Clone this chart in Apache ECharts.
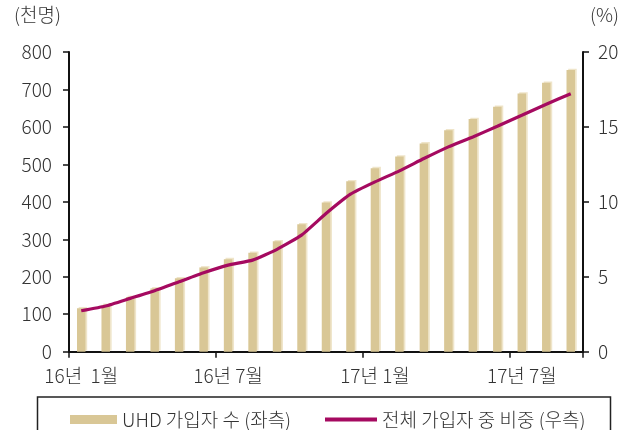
<!DOCTYPE html>
<html>
<head>
<meta charset="utf-8">
<style>
  html, body { margin: 0; padding: 0; background: #fff; }
  #chart { width: 622px; height: 430px; }
</style>
<script src="https://cdn.jsdelivr.net/npm/echarts@6/dist/echarts.min.js"></script>
</head>
<body>
<div id="chart"></div>
<script>
// Monthly UHD subscribers, Jan 2016 – Sep 2017
const months = [
  '16년  1월', '16년 2월', '16년 3월', '16년 4월', '16년 5월', '16년 6월',
  '16년 7월', '16년 8월', '16년 9월', '16년 10월', '16년 11월', '16년 12월',
  '17년 1월', '17년 2월', '17년 3월', '17년 4월', '17년 5월', '17년 6월',
  '17년 7월', '17년 8월', '17년 9월'
];
// UHD subscribers (thousand people), left axis
const uhdSubscribers = [116, 125, 146, 169, 196, 225, 247, 264, 295, 340, 398,
  455, 490, 521, 556, 591, 621, 654, 689, 718, 752];
// Share of all subscribers (%), right axis
const uhdShare = [2.73, 3.05, 3.56, 4.07, 4.67, 5.27, 5.78, 6.11, 6.83, 7.78, 9.22,
  10.51, 11.33, 12.07, 12.89, 13.67, 14.33, 15.05, 15.78, 16.51, 17.22];

const leftTicks = { min: 0, max: 800, interval: 100 };
const rightTicks = { min: 0, max: 20, interval: 5 };

const barName = 'UHD 가입자 수 (좌측)';
const lineName = '전체 가입자 중 비중 (우측)';

const FONT = '"Noto Sans CJK KR", "Noto Sans", sans-serif';
const WEIGHT = 300;
const SIZE = 19;
const TEXT = '#333';
const AXIS = '#111';

const chart = echarts.init(document.getElementById('chart'), null, { renderer: 'canvas' });

const labelStyle = { fontSize: SIZE, color: TEXT, fontFamily: FONT, fontWeight: WEIGHT };

chart.setOption({
  animation: false,
  backgroundColor: '#fff',
  textStyle: { fontFamily: FONT, fontWeight: WEIGHT },
  grid: { left: 69, right: 39, top: 52, bottom: 78.3, containLabel: false },
  graphic: [
    {
      type: 'text', left: 14, top: 5,
      style: { text: '(천명)', font: WEIGHT + ' ' + SIZE + 'px ' + FONT, fill: TEXT }
    },
    {
      type: 'text', left: 590, top: 5,
      style: { text: '(%)', font: WEIGHT + ' ' + SIZE + 'px ' + FONT, fill: TEXT }
    },
    {
      type: 'rect',
      shape: { x: 37.5, y: 397, width: 573, height: 50 },
      style: { fill: 'none', stroke: '#222', lineWidth: 1.5 },
      z: -1
    }
  ],
  legend: [
    {
      data: [barName], left: 65, top: 405,
      itemWidth: 47, itemHeight: 9, icon: 'rect',
      textStyle: labelStyle
    },
    {
      data: [{ name: lineName, icon: 'rect' }], left: 320, top: 405,
      itemWidth: 52, itemHeight: 4,
      textStyle: labelStyle
    }
  ],
  xAxis: {
    type: 'category',
    data: months,
    boundaryGap: true,
    axisLine: { lineStyle: { color: AXIS, width: 2 } },
    axisTick: { show: true, interval: 5, length: 6, lineStyle: { color: AXIS, width: 1.5 } },
    axisLabel: Object.assign({ interval: 5, margin: 15 }, labelStyle),
    splitLine: { show: false }
  },
  yAxis: [
    {
      type: 'value',
      min: leftTicks.min, max: leftTicks.max, interval: leftTicks.interval,
      axisLine: { show: true, lineStyle: { color: AXIS, width: 2 } },
      axisTick: { show: true, length: 6, lineStyle: { color: AXIS, width: 1.5 } },
      axisLabel: Object.assign({ margin: 17 }, labelStyle),
      splitLine: { show: false }
    },
    {
      type: 'value', position: 'right',
      min: rightTicks.min, max: rightTicks.max, interval: rightTicks.interval,
      axisLine: { show: true, lineStyle: { color: AXIS, width: 2 } },
      axisTick: { show: true, length: 6, lineStyle: { color: AXIS, width: 1.5 } },
      axisLabel: Object.assign({ margin: 15 }, labelStyle),
      splitLine: { show: false }
    }
  ],
  series: [
    {
      name: barName,
      type: 'bar',
      yAxisIndex: 0,
      data: uhdSubscribers,
      barWidth: 8.5,
      itemStyle: {
        color: '#d9c796',
        shadowColor: '#efe5ca',
        shadowBlur: 0,
        shadowOffsetX: 1.7,
        shadowOffsetY: -1.3
      }
    },
    {
      name: lineName,
      type: 'line',
      yAxisIndex: 1,
      data: uhdShare,
      smooth: 0.15,
      symbol: 'none',
      lineStyle: { color: '#a50a60', width: 3.2 },
      itemStyle: { color: '#a50a60' },
      z: 3
    }
  ]
});
</script>
</body>
</html>
